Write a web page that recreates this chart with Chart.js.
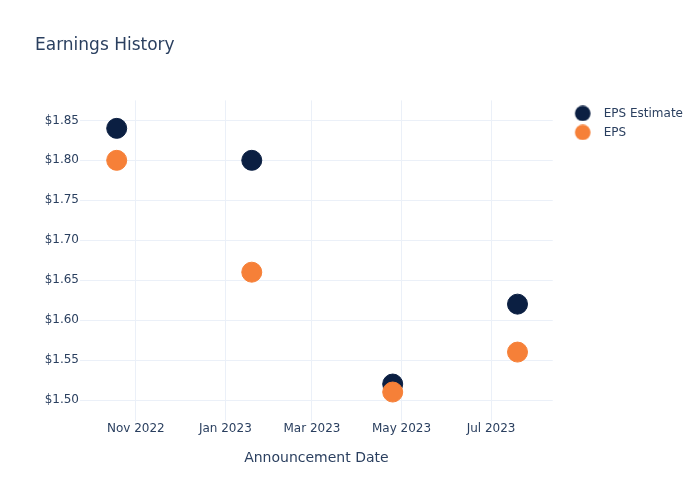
<!DOCTYPE html>
<html>
<head>
<meta charset="utf-8">
<script src="https://cdn.jsdelivr.net/npm/chart.js@4.4.0/dist/chart.umd.min.js"></script>
<style>
  html, body { margin: 0; padding: 0; background: #fff; }
  #wrap { width: 700px; height: 500px; }
</style>
</head>
<body>
<div id="wrap"><canvas id="earningsChart"></canvas></div>
<script>
// announcement dates and values
const announceDates = ['2022-10-19', '2023-01-19', '2023-04-25', '2023-07-19'];
const epsEstimate = [1.84, 1.80, 1.52, 1.62];
const epsActual = [1.80, 1.66, 1.51, 1.56];

// axis ticks
const xTickDates = ['2022-11-01', '2023-01-01', '2023-03-01', '2023-05-01', '2023-07-01'];
const xTickLabels = ['Nov 2022', 'Jan 2023', 'Mar 2023', 'May 2023', 'Jul 2023'];
const yTicks = [1.50, 1.55, 1.60, 1.65, 1.70, 1.75, 1.80, 1.85];

const toTime = s => Date.parse(s + 'T00:00:00Z');
const xTickTimes = xTickDates.map(toTime);

const textColor = '#2a3f5f';
const gridColor = '#ebf0f8';
const fontFamily = "'DejaVu Sans', Verdana, sans-serif";
const estimateColor = '#0b1f42';
const epsColor = '#f68038';

// legend swatch: wide image with the dot sitting 15px before the text
const swatchWidth = 38;
function legendDot(color) {
    const c = document.createElement('canvas');
    c.width = swatchWidth;
    c.height = 16;
    const g = c.getContext('2d');
    g.fillStyle = color;
    g.beginPath();
    g.arc(swatchWidth - 15, 8, 7.8, 0, Math.PI * 2);
    g.fill();
    return c;
}

document.addEventListener('DOMContentLoaded', function() {
    const ctx = document.getElementById('earningsChart').getContext('2d');
    const dots = [legendDot(estimateColor), legendDot(epsColor)];

    new Chart(ctx, {
        type: 'scatter',
        data: {
            datasets: [{
                label: 'EPS Estimate',
                data: announceDates.map((d, i) => ({ x: toTime(d), y: epsEstimate[i] })),
                backgroundColor: estimateColor,
                borderColor: estimateColor,
                pointRadius: 10,
                pointHoverRadius: 10,
                order: 1
            }, {
                label: 'EPS',
                data: announceDates.map((d, i) => ({ x: toTime(d), y: epsActual[i] })),
                backgroundColor: epsColor,
                borderColor: epsColor,
                pointRadius: 10,
                pointHoverRadius: 10,
                order: 0
            }]
        },
        options: {
            responsive: true,
            maintainAspectRatio: false,
            animation: false,
            layout: { padding: { left: 35, right: 7, top: 0, bottom: 33 } },
            plugins: {
                title: {
                    display: true,
                    text: 'Earnings History',
                    align: 'start',
                    color: textColor,
                    font: { family: fontFamily, size: 17, weight: 'normal' },
                    padding: { top: 35, bottom: 45 }
                },
                legend: {
                    position: 'right',
                    align: 'start',
                    fullSize: false,
                    labels: {
                        usePointStyle: true,
                        pointStyleWidth: swatchWidth,
                        boxHeight: 12,
                        padding: 7,
                        color: textColor,
                        font: { family: fontFamily, size: 12 },
                        sort: (a, b) => a.datasetIndex - b.datasetIndex,
                        generateLabels: chart => {
                            const items = Chart.defaults.plugins.legend.labels.generateLabels(chart);
                            items.forEach(item => { item.pointStyle = dots[item.datasetIndex]; });
                            return items;
                        }
                    }
                },
                tooltip: { enabled: false }
            },
            scales: {
                x: {
                    type: 'linear',
                    min: toTime('2022-09-24'),
                    max: toTime('2023-08-12'),
                    afterBuildTicks: axis => { axis.ticks = xTickTimes.map(v => ({ value: v })); },
                    ticks: {
                        color: textColor,
                        font: { family: fontFamily, size: 12 },
                        padding: 1,
                        maxRotation: 0,
                        autoSkip: false,
                        callback: value => xTickLabels[xTickTimes.indexOf(value)]
                    },
                    grid: { color: gridColor, drawTicks: false },
                    border: { display: false },
                    title: {
                        display: true,
                        text: 'Announcement Date',
                        color: textColor,
                        font: { family: fontFamily, size: 14 },
                        padding: { top: 13, bottom: 0 }
                    }
                },
                y: {
                    min: 1.474,
                    max: 1.875,
                    afterBuildTicks: axis => { axis.ticks = yTicks.map(v => ({ value: v })); },
                    afterFit: axis => { axis.width = 45; },
                    ticks: {
                        color: textColor,
                        font: { family: fontFamily, size: 12 },
                        padding: 1,
                        callback: value => '$' + value.toFixed(2)
                    },
                    grid: { color: gridColor, drawTicks: false },
                    border: { display: false }
                }
            }
        }
    });
});
</script>
</body>
</html>
